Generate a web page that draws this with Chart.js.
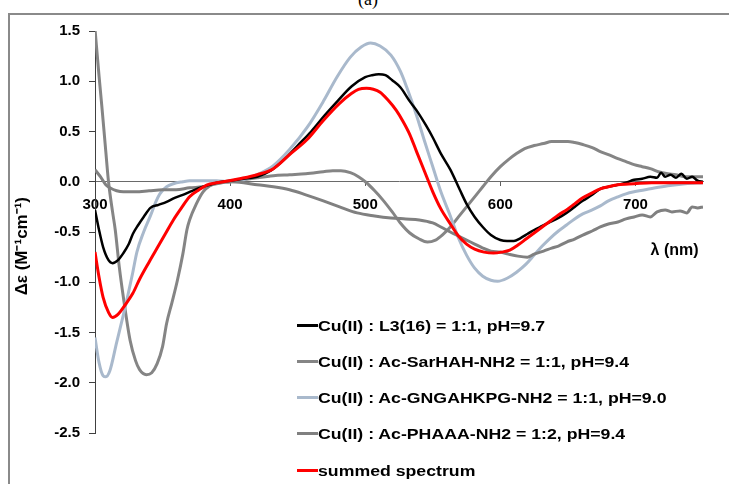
<!DOCTYPE html>
<html>
<head>
<meta charset="utf-8">
<script src="https://cdn.jsdelivr.net/npm/chart.js@4.4.1/dist/chart.umd.min.js"></script>
<style>
  html, body { margin: 0; padding: 0; background: #fff; overflow: hidden; }
  #wrap { position: relative; width: 729px; height: 484px; overflow: hidden; }
  #frame { position: absolute; left: 8px; top: 13px; width: 800px; height: 600px; border: 2px solid #8a8a8a; box-sizing: border-box; }
  #cap { position: absolute; left: 0; width: 736px; top: -10px; text-align: center; font: 18px "Liberation Serif", serif; color: #000; line-height: 18px; }
  canvas { position: absolute; left: 0; top: 0; }
  #legend { position: absolute; left: 297px; top: 316px; font: bold 15px "Liberation Sans", Arial, sans-serif; color: #000; }
  .row { position: absolute; left: 0; height: 18px; display: flex; align-items: center; white-space: nowrap; }
  .swatch { width: 21px; height: 3px; }
  .txt { display: inline-block; transform: scaleX(1.18); transform-origin: left center; }
</style>
</head>
<body>
<div id="wrap">
  <div id="frame"></div>
  <div id="cap">(a)</div>
  <canvas id="c" width="729" height="484"></canvas>
  <div id="legend"></div>
</div>
<script>
// ---- data ----
const seriesLabels = [
  "Cu(II) : L3(16) = 1:1, pH=9.7",
  "Cu(II) : Ac-SarHAH-NH2 = 1:1, pH=9.4",
  "Cu(II) : Ac-GNGAHKPG-NH2 = 1:1, pH=9.0",
  "Cu(II) : Ac-PHAAA-NH2 = 1:2, pH=9.4",
  "summed spectrum"
];

const xTicks = [300, 400, 500, 600, 700];
const yTicks = [-2.5, -2.0, -1.5, -1.0, -0.5, 0.0, 0.5, 1.0, 1.5];

// L3(16) (black)
const wlL3 = [300,303,306,310,313,317,321,325,328,332,336,341,347,353,359,365,372,380,385,390,400,410,420,430,440,450,460,470,480,490,500,505,510,515,520,526,533,538,545,550,556,563,570,575,581,587,593,600,605,610,615,620,625,631,637,643,649,655,661,668,674,680,687,693,699,705,711,716,719,722,726,730,734,738,742,746,750];
const dL3  = [-0.28,-0.48,-0.65,-0.78,-0.81,-0.78,-0.71,-0.62,-0.52,-0.43,-0.35,-0.26,-0.23,-0.20,-0.16,-0.13,-0.09,-0.05,-0.03,-0.01,0.01,0.03,0.05,0.11,0.22,0.36,0.50,0.66,0.81,0.95,1.04,1.06,1.07,1.06,1.01,0.94,0.80,0.71,0.56,0.44,0.28,0.12,-0.08,-0.22,-0.35,-0.45,-0.53,-0.58,-0.59,-0.59,-0.56,-0.52,-0.48,-0.44,-0.40,-0.36,-0.31,-0.25,-0.19,-0.13,-0.07,-0.05,-0.03,-0.01,0.02,0.03,0.05,0.04,0.09,0.05,0.07,0.04,0.08,0.03,0.05,0.01,0.0];

// Ac-SarHAH-NH2 (grey)
const wlSar = [300,303,305,308,310,313,315,318,321,326,330,333,338,342,346,350,353,357,361,365,368,370,375,380,385,390,400,410,420,432,444,456,469,476,482,489,495,501,507,513,520,526,533,540,546,552,557,563,569,575,581,587,593,600,606,612,618,625,632,638,644,650,655,661,668,674,680,687,693,699,705,711,717,724,730,736,743,750];
const dSar  = [1.52,1.05,0.76,0.30,0.0,-0.30,-0.48,-0.85,-1.15,-1.58,-1.78,-1.87,-1.92,-1.90,-1.81,-1.64,-1.41,-1.20,-0.98,-0.72,-0.48,-0.38,-0.22,-0.10,-0.04,-0.01,0.0,0.02,0.04,0.06,0.07,0.08,0.10,0.11,0.11,0.09,0.05,-0.01,-0.09,-0.18,-0.30,-0.41,-0.51,-0.57,-0.60,-0.58,-0.53,-0.45,-0.35,-0.25,-0.15,-0.05,0.05,0.15,0.22,0.28,0.33,0.36,0.38,0.40,0.40,0.40,0.39,0.37,0.34,0.30,0.27,0.23,0.20,0.17,0.15,0.13,0.10,0.08,0.07,0.05,0.05,0.05];

// Ac-GNGAHKPG-NH2 (light blue)
const wlGng = [300,303,306,308,311,316,320,324,328,331,336,341,345,348,353,358,365,370,380,390,400,410,420,432,444,457,469,479,489,497,504,511,519,526,531,538,544,550,556,563,569,575,581,587,593,598,605,612,619,625,631,637,643,649,655,661,668,674,680,687,693,699,711,724,737,750];
const dGng  = [-1.55,-1.80,-1.93,-1.94,-1.88,-1.60,-1.38,-1.15,-0.90,-0.70,-0.50,-0.34,-0.20,-0.12,-0.05,-0.02,0.0,0.01,0.01,0.01,0.0,0.02,0.07,0.16,0.32,0.54,0.80,1.04,1.24,1.34,1.38,1.35,1.26,1.10,0.93,0.66,0.40,0.15,-0.10,-0.34,-0.56,-0.73,-0.86,-0.94,-0.98,-0.99,-0.96,-0.90,-0.82,-0.73,-0.64,-0.56,-0.49,-0.43,-0.37,-0.32,-0.28,-0.24,-0.19,-0.15,-0.12,-0.10,-0.07,-0.04,-0.02,-0.01];

// Ac-PHAAA-NH2 (grey)
const wlPha = [300,304,308,311,316,321,330,340,350,360,370,380,390,400,410,420,432,444,456,469,481,494,507,519,530,540,550,556,563,569,575,581,587,593,600,606,613,620,625,632,638,643,649,655,661,668,674,680,687,693,699,705,711,716,722,727,733,738,742,746,750];
const dPha  = [0.12,0.05,-0.03,-0.06,-0.09,-0.10,-0.10,-0.09,-0.08,-0.08,-0.06,-0.05,-0.02,0.0,-0.01,-0.03,-0.05,-0.08,-0.13,-0.19,-0.25,-0.31,-0.34,-0.36,-0.37,-0.38,-0.41,-0.45,-0.50,-0.54,-0.58,-0.62,-0.66,-0.69,-0.70,-0.72,-0.74,-0.75,-0.72,-0.69,-0.66,-0.64,-0.60,-0.57,-0.53,-0.49,-0.45,-0.42,-0.40,-0.37,-0.35,-0.33,-0.35,-0.30,-0.28,-0.30,-0.29,-0.31,-0.25,-0.26,-0.25];

// summed spectrum (red)
const wlSum = [300,303,306,310,313,317,321,328,333,340,346,352,358,364,370,377,383,390,395,407,420,432,444,457,469,481,490,495,501,506,511,517,523,528,533,538,544,550,556,563,569,575,581,588,595,601,607,613,619,625,631,637,643,649,655,661,668,674,680,687,699,712,724,737,750];
const dSum  = [-0.70,-0.95,-1.15,-1.30,-1.35,-1.32,-1.25,-1.11,-0.97,-0.80,-0.66,-0.52,-0.38,-0.26,-0.15,-0.08,-0.03,-0.01,0.0,0.03,0.07,0.13,0.27,0.42,0.61,0.78,0.88,0.92,0.93,0.92,0.89,0.81,0.71,0.60,0.47,0.30,0.10,-0.10,-0.27,-0.42,-0.54,-0.62,-0.67,-0.70,-0.71,-0.70,-0.68,-0.63,-0.57,-0.51,-0.45,-0.39,-0.33,-0.28,-0.22,-0.16,-0.11,-0.07,-0.05,-0.03,-0.02,-0.01,-0.01,-0.01,-0.01];

const seriesColors = ["#000000", "#858585", "#a9b9cc", "#808080", "#ff0000"];
const seriesWidths = [2.5, 3, 3, 3, 3];
const seriesOrder  = [1, 4, 3, 2, 0];

const pairs = [[wlL3,dL3],[wlSar,dSar],[wlGng,dGng],[wlPha,dPha],[wlSum,dSum]];
const toXY = (wl, d) => wl.map((w, i) => ({x: w, y: d[i]}));

const datasets = pairs.map((p, i) => ({
  label: seriesLabels[i],
  data: toXY(p[0], p[1]),
  borderColor: seriesColors[i],
  backgroundColor: seriesColors[i],
  borderWidth: seriesWidths[i],
  pointRadius: 0,
  cubicInterpolationMode: 'monotone',
  fill: false,
  order: seriesOrder[i]
}));

const FONT = "'Liberation Sans', Arial, sans-serif";

new Chart(document.getElementById('c'), {
  type: 'line',
  data: { datasets },
  options: {
    responsive: false,
    devicePixelRatio: 1,
    animation: false,
    layout: { padding: { left: 0, top: 31, right: 26, bottom: 51 } },
    plugins: { legend: { display: false }, tooltip: { enabled: false } },
    scales: {
      x: {
        type: 'linear',
        min: 300, max: 750,
        position: { y: 0 },
        afterBuildTicks: (s) => { s.ticks = xTicks.map(v => ({ value: v })); },
        afterFit: (s) => { s.height = 80; },
        ticks: { color: '#000', font: { family: FONT, size: 15, weight: 'bold' }, padding: 10, maxRotation: 0 },
        grid: { drawOnChartArea: false, tickLength: 4, color: '#606060' },
        border: { color: '#6a6a6a', width: 1 },
        title: { display: true, text: 'λ (nm)\u00a0', align: 'end', color: '#000',
                 font: { family: FONT, size: 16, weight: 'bold' }, padding: { top: 0, bottom: 2 } }
      },
      y: {
        type: 'linear',
        min: -2.5, max: 1.5,
        afterBuildTicks: (s) => { s.ticks = yTicks.map(v => ({ value: v })); },
        afterFit: (s) => { s.width = 95; },
        ticks: { color: '#000', font: { family: FONT, size: 15, weight: 'bold' }, padding: 9,
                 callback: (v) => Number(v).toFixed(1) },
        grid: { drawOnChartArea: false, tickLength: 6, color: '#404040' },
        border: { color: '#404040', width: 1 },
        title: { display: true, text: 'Δε (M⁻¹cm⁻¹)\u00a0\u00a0\u00a0\u00a0\u00a0\u00a0', color: '#000',
                 font: { family: FONT, size: 17, weight: 'bold' }, padding: { top: 12, bottom: 0 } }
      }
    }
  }
});

// HTML legend built from the series
const leg = document.getElementById('legend');
seriesLabels.forEach((lab, i) => {
  const row = document.createElement('div');
  row.className = 'row';
  row.style.top = (i * 36.3) + 'px';
  const sw = document.createElement('span');
  sw.className = 'swatch';
  sw.style.background = seriesColors[i];
  const tx = document.createElement('span');
  tx.className = 'txt';
  tx.textContent = lab;
  row.appendChild(sw); row.appendChild(tx);
  leg.appendChild(row);
});
</script>
</body>
</html>
